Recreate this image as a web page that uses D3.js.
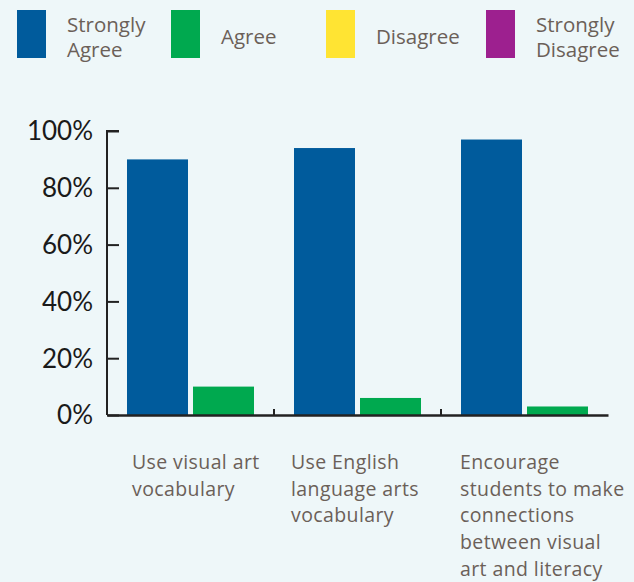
<!DOCTYPE html>
<html><head><meta charset="utf-8">
<script src="https://cdn.jsdelivr.net/npm/d3@7"></script>
<style>
html,body{margin:0;padding:0;background:#eef7f9;}
svg{display:block;}
</style></head>
<body>
<svg id="chart" width="634" height="582"></svg>
<script>
const categories = [
  ["Use visual art", "vocabulary"],
  ["Use English", "language arts", "vocabulary"],
  ["Encourage", "students to make", "connections", "between visual", "art and literacy"]
];
const seriesNames = ["Strongly Agree", "Agree", "Disagree", "Strongly Disagree"];
const legendLines = [["Strongly", "Agree"], ["Agree"], ["Disagree"], ["Strongly", "Disagree"]];
const stronglyAgree = [90, 94, 97];
const agree = [10, 6, 3];
const disagree = [0, 0, 0];
const stronglyDisagree = [0, 0, 0];
const yTicks = [0, 20, 40, 60, 80, 100];

(function () {
const colors = ["#005b9c", "#00a94f", "#ffe433", "#9d208f"];
const seriesValues = [stronglyAgree, agree, disagree, stronglyDisagree];

const svg = d3.select("#chart");
const textColor = "#6b6058";
const labelFont = "'Open Sans', sans-serif";
const tickFont = "Lato, sans-serif";

const mLeft = 107, mRight = 608, mTop = 131, mBottom = 415;
const catIdx = categories.map((c, i) => i);
const x0 = d3.scaleBand().domain(catIdx).range([mLeft, mRight]).padding(0);
const plotted = [0, 1];
const x1 = d3.scaleBand().domain(plotted).range([20, x0.bandwidth() - 20]).paddingInner(5 / 66);
const y = d3.scaleLinear().domain([0, 100]).range([mBottom, mTop]);

// bars
const g = svg.append("g");
catIdx.forEach(ci => {
  plotted.forEach(si => {
    const v = seriesValues[si][ci];
    g.append("rect")
      .attr("x", x0(ci) + x1(si))
      .attr("y", y(v))
      .attr("width", x1.bandwidth())
      .attr("height", y(0) - y(v))
      .attr("fill", colors[si]);
  });
});

// y axis
const yAxis = d3.axisRight(y).tickValues(yTicks).tickSize(12).tickFormat("");
const ya = svg.append("g").attr("transform", `translate(${mLeft},0)`).call(yAxis);
ya.select(".domain").attr("d", `M12,${mTop}H0V${mBottom}`).attr("stroke", "#222").attr("stroke-width", 2);
ya.selectAll(".tick line").attr("stroke", "#222").attr("stroke-width", 2);

svg.append("g").selectAll("text").data(yTicks).join("text")
  .attr("x", 93).attr("y", d => y(d)).attr("dy", "0.36em")
  .attr("text-anchor", "end")
  .attr("font-family", tickFont).attr("font-size", 26).attr("fill", "#1a1a1a")
  .text(d => d + "%");

// x axis
const xa = svg.append("g").attr("transform", `translate(0,${mBottom})`)
  .call(d3.axisBottom(x0).tickValues([1, 2]).tickSize(-6).tickFormat("").tickSizeOuter(0));
xa.selectAll(".tick").attr("transform", d => `translate(${x0(d)},0)`);
xa.select(".domain").attr("stroke", "#222").attr("stroke-width", 2.5);
xa.selectAll(".tick line").attr("stroke", "#222").attr("stroke-width", 2);

// category labels
const labelOffsets = [25, 17, 19];
catIdx.forEach(ci => {
  const t = svg.append("text")
    .attr("x", x0(ci) + labelOffsets[ci]).attr("y", 469)
    .attr("font-family", labelFont).attr("font-weight", 500).attr("font-size", 19.5)
    .attr("letter-spacing", 0.4).attr("fill", textColor);
  categories[ci].forEach((line, li) => {
    t.append("tspan").attr("x", x0(ci) + labelOffsets[ci]).attr("dy", li === 0 ? 0 : 26.7).text(line);
  });
});

// legend
const legendX = [17, 171, 326, 486];
seriesNames.forEach((s, i) => {
  svg.append("rect").attr("x", legendX[i]).attr("y", 10).attr("width", 29).attr("height", 48).attr("fill", colors[i]);
  const lines = legendLines[i];
  const startY = lines.length === 1 ? 44 : 32;
  lines.forEach((line, li) => {
    svg.append("text")
      .attr("font-family", labelFont).attr("font-weight", 500).attr("font-size", 20.5).attr("fill", textColor)
      .attr("x", legendX[i] + 50).attr("y", startY + li * 24.5).text(line);
  });
});
})();
</script>
</body></html>
